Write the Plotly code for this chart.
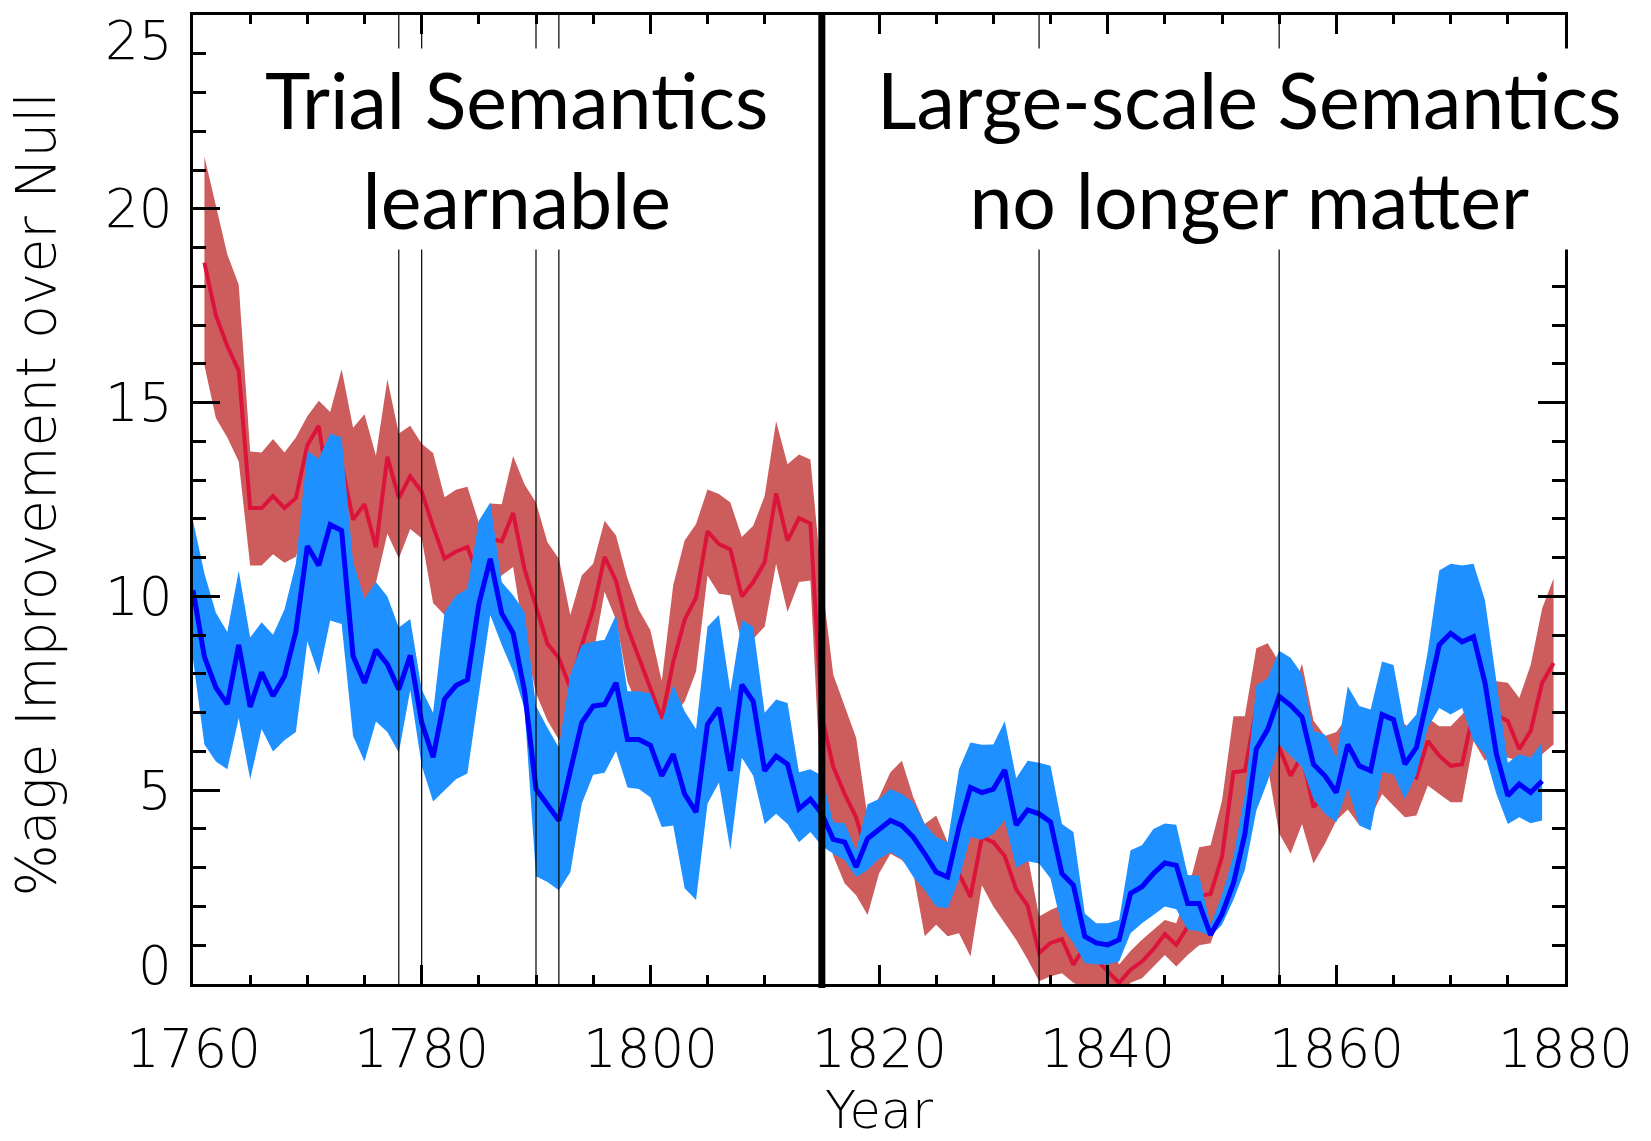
import plotly.graph_objects as go

# ---- data -------------------------------------------------------------
blue_years = list(range(1760, 1879))
red_years = list(range(1761, 1880))

blue_mid = [
    10.16, 8.44, 7.65, 7.22, 8.75, 7.15, 8.04, 7.43, 7.94, 9.1,
    11.3, 10.8, 11.85, 11.7, 8.46, 7.77, 8.62, 8.25, 7.6, 8.48,
    6.75, 5.85, 7.35, 7.7, 7.85, 9.8, 10.97, 9.56, 9.05, 7.55,
    5.03, 4.65, 4.22, 5.5, 6.74, 7.17, 7.21, 7.77, 6.31, 6.31,
    6.16, 5.37, 5.93, 4.9, 4.43, 6.7, 7.12, 5.5, 7.72, 7.29,
    5.5, 5.88, 5.67, 4.52, 4.77, 4.39, 3.73, 3.66, 3.02, 3.75,
    4.0, 4.22, 4.09, 3.79, 3.36, 2.89, 2.76, 4.05, 5.07, 4.94,
    5.03, 5.52, 4.1, 4.49, 4.39, 4.18, 2.85, 2.55, 1.23, 1.06,
    1.01, 1.14, 2.34, 2.51, 2.85, 3.12, 3.06, 2.08, 2.08, 1.27,
    1.8, 2.6, 3.87, 6.06, 6.57, 7.42, 7.19, 6.89, 5.67, 5.37,
    4.94, 6.18, 5.63, 5.5, 6.95, 6.82, 5.67, 6.1, 7.42, 8.75,
    9.05, 8.83, 8.96, 7.77, 5.93, 4.86, 5.16, 4.94, 5.24,
]
blue_hi = [
    11.95, 10.59, 9.58, 9.08, 10.66, 8.94, 9.33, 9.01, 9.66, 10.85,
    13.76, 13.55, 14.2, 14.1, 10.9, 9.94, 10.37, 10.0, 9.2, 9.42,
    7.6, 7.0, 9.59, 10.02, 10.2, 11.95, 12.42, 10.37, 10.03, 9.6,
    7.17, 6.61, 6.1, 7.98, 8.75, 8.83, 8.88, 9.52, 7.55, 7.55,
    7.5, 6.75, 7.72, 7.04, 6.57, 9.22, 9.52, 7.55, 9.39, 9.22,
    7.0, 7.34, 7.25, 5.46, 5.54, 5.37, 4.17, 4.15, 3.45, 4.64,
    4.77, 5.03, 4.9, 4.69, 4.13, 3.79, 3.66, 5.54, 6.23, 6.17,
    6.18, 6.78, 5.31, 5.76, 5.71, 5.63, 4.13, 3.92, 1.82, 1.57,
    1.57, 1.65, 3.45, 3.58, 4.0, 4.14, 4.11, 2.81, 2.79, 1.53,
    2.3, 3.3, 4.9, 7.7, 7.89, 8.6, 8.42, 8.0, 6.53, 6.44,
    5.84, 7.68, 7.17, 7.08, 8.32, 8.23, 6.61, 6.95, 8.58, 10.67,
    10.84, 10.8, 10.84, 9.9, 7.81, 5.71, 5.93, 5.84, 6.23,
]
blue_lo = [
    8.37, 6.18, 5.74, 5.54, 6.86, 5.28, 6.58, 6.0, 6.29, 6.5,
    8.84, 7.98, 9.38, 9.29, 6.4, 5.74, 6.77, 6.5, 5.97, 7.58,
    5.64, 4.71, 5.0, 5.28, 5.43, 7.5, 9.52, 8.75, 8.06, 7.1,
    2.78, 2.63, 2.42, 2.88, 4.65, 5.4, 5.45, 6.01, 5.07, 5.03,
    4.82, 4.05, 4.09, 2.47, 2.17, 4.65, 5.2, 3.45, 5.84, 5.37,
    4.13, 4.39, 4.13, 3.66, 3.92, 3.56, 3.36, 3.19, 2.76, 2.94,
    3.23, 3.4, 3.23, 2.76, 2.42, 2.0, 1.95, 2.7, 3.79, 3.72,
    3.87, 4.22, 3.0, 3.17, 3.11, 2.72, 1.48, 1.06, 0.54, 0.5,
    0.5, 0.58, 1.31, 1.57, 1.78, 2.0, 1.93, 1.4, 1.36, 1.23,
    1.53, 2.17, 2.94, 4.47, 5.24, 6.18, 5.9, 5.6, 4.78, 4.39,
    4.17, 5.07, 4.09, 3.96, 5.46, 5.41, 4.77, 5.41, 6.61, 7.12,
    6.95, 7.12, 6.27, 5.93, 4.9, 4.13, 4.3, 4.15, 4.22,
]

red_mid = [
    18.61, 17.25, 16.46, 15.82, 12.28, 12.28, 12.59, 12.28, 12.54,
    13.9, 14.4, 12.5, 13.4, 11.98, 12.38, 11.27, 13.6, 12.54, 13.1,
    12.7, 11.8, 10.98, 11.16, 11.27, 10.5, 11.5, 11.42, 12.15, 10.7,
    9.72, 8.78, 8.41, 7.64, 8.74, 9.67, 11.02, 10.4, 9.2, 8.41,
    7.62, 6.85, 8.3, 9.4, 9.97, 11.68, 11.35, 11.21, 10.0, 10.37,
    10.88, 12.66, 11.44, 12.02, 11.88, 6.9, 5.6, 4.9, 4.3, 3.3,
    3.8, 4.4, 4.5, 3.8, 2.7, 2.9, 2.5, 2.85, 2.25, 3.79,
    3.66, 3.3, 2.44, 2.02, 0.8, 1.06, 1.16, 0.5, 0.97, 0.63,
    0.33, 0.03, 0.37, 0.58, 0.9, 1.29, 1.01, 1.48, 2.27, 2.32,
    3.28, 5.46, 5.5, 7.1, 7.2, 6.1, 5.37, 5.9, 4.56, 4.9,
    5.2, 5.7, 5.4, 5.6, 6.1, 5.8, 5.5, 5.33, 6.27, 5.89,
    5.63, 5.67, 7.04, 7.21, 6.95, 6.78, 6.06, 6.53, 7.77, 8.28,
]
red_hi = [
    21.34, 20.05, 18.83, 18.04, 13.74, 13.71, 14.06, 13.71, 14.1,
    14.65, 15.05, 14.76, 15.86, 14.35, 14.7, 13.63, 15.6, 14.2, 14.4,
    13.94, 13.7, 12.56, 12.75, 12.83, 11.9, 12.4, 12.38, 13.62, 12.89,
    12.42, 11.4, 10.97, 9.52, 10.54, 10.84, 11.95, 11.57, 10.46, 9.65,
    9.13, 7.81, 10.29, 11.44, 11.87, 12.76, 12.64, 12.42, 11.53, 11.82,
    12.59, 14.52, 13.41, 13.66, 13.53, 10.4, 7.98, 7.17, 6.35, 4.3,
    4.82, 5.46, 5.76, 4.82, 4.13, 4.35, 3.66, 4.1, 3.8, 5.1,
    5.0, 4.8, 3.8, 3.3, 1.74, 1.91, 2.04, 1.3, 1.8, 1.4,
    1.1, 0.5, 0.85, 1.14, 1.4, 1.65, 1.57, 2.4, 3.53, 3.58,
    4.73, 6.91, 6.91, 8.66, 8.79, 8.3, 7.4, 8.26, 6.8, 6.4,
    6.5, 6.9, 6.7, 6.9, 7.3, 7.0, 6.7, 6.44, 6.87, 6.65,
    6.65, 6.95, 7.3, 7.6, 7.81, 7.77, 7.38, 8.23, 9.69, 10.46,
]
red_lo = [
    15.96, 14.6, 14.1, 13.48, 10.8, 10.8, 11.09, 10.87, 11.02,
    12.2, 12.8, 10.9, 11.5, 10.8, 9.9, 10.35, 11.62, 10.98, 11.74,
    11.5, 9.83, 9.52, 9.98, 10.17, 9.2, 10.2, 10.54, 10.76, 8.9,
    7.5, 6.8, 6.3, 6.1, 7.4, 8.5, 10.12, 9.4, 7.8, 7.1,
    6.2, 5.3, 6.9, 7.29, 8.06, 10.54, 10.07, 10.03, 8.8, 8.9,
    9.22, 10.84, 9.6, 10.37, 10.41, 4.5, 3.3, 2.59, 2.29, 1.78,
    2.85, 3.36, 3.2, 2.85, 1.23, 1.53, 1.23, 1.31, 0.71, 2.55,
    2.0, 1.57, 1.14, 0.63, 0.07, 0.2, 0.28, 0.03, -0.1, -0.3,
    -0.6, -0.5, 0.03, 0.15, 0.45, 0.75, 0.45, 0.75, 1.0, 1.05,
    1.9, 3.2, 4.0, 5.5, 5.6, 3.88, 3.36, 4.13, 3.11, 3.62,
    4.22, 4.5, 4.1, 4.3, 4.9, 4.6, 4.3, 4.35, 5.12, 4.9,
    4.69, 4.69, 6.27, 5.76, 6.06, 5.84, 5.76, 5.84, 5.93, 6.18,
]

event_years = [1778, 1780, 1790, 1792, 1834, 1855]
split_year = 1815

x_ticks = [1760, 1780, 1800, 1820, 1840, 1860, 1880]
y_ticks = [0, 5, 10, 15, 20, 25]

period_labels = ["Trial Semantics<br>learnable",
                 "Large-scale Semantics<br>no longer matter"]
period_centres = [1788.3, 1852.4]

# ---- styling ----------------------------------------------------------
RED_BAND, RED_LINE = "#CD5C5C", "#DC143C"
BLUE_BAND, BLUE_LINE = "#1E90FF", "#0000FF"
AXIS_FONT = dict(family="DejaVu Sans", size=53, color="black", weight=200)
TITLE_FONT = dict(family="DejaVu Sans", size=55, color="black", weight=200)
XTITLE_FONT = dict(family="DejaVu Sans", size=51, color="black", weight=200)
PERIOD_FONT = dict(family="Lato", size=77, color="black")


def band(xs, hi, lo, colour):
    return go.Scatter(
        x=xs + xs[::-1], y=hi + lo[::-1], mode="lines", fill="toself",
        fillcolor=colour, line=dict(width=0, color="rgba(0,0,0,0)"),
        hoverinfo="skip", showlegend=False)


fig = go.Figure()
fig.add_trace(band(red_years, red_hi, red_lo, RED_BAND))
fig.add_trace(go.Scatter(x=red_years, y=red_mid, mode="lines",
                         line=dict(color=RED_LINE, width=4),
                         showlegend=False))
fig.add_trace(band(blue_years, blue_hi, blue_lo, BLUE_BAND))
fig.add_trace(go.Scatter(x=blue_years, y=blue_mid, mode="lines",
                         line=dict(color=BLUE_LINE, width=5),
                         showlegend=False))

shapes = [dict(type="line", xref="x", yref="paper", x0=yr, x1=yr,
               y0=0, y1=1, line=dict(color="black", width=1.2),
               layer="above") for yr in event_years]
shapes.append(dict(type="line", xref="x", yref="paper", x0=split_year,
                   x1=split_year, y0=-0.004, y1=1,
                   line=dict(color="black", width=7), layer="above"))

annotations = []
for yr in x_ticks:
    annotations.append(dict(x=yr, y=0, xref="x", yref="paper", text=str(yr),
                            showarrow=False, xanchor="center",
                            yanchor="middle", yshift=-64, borderpad=0,
                            font=AXIS_FONT))
for v in y_ticks:
    shift = 19 if v == y_ticks[0] else (-25 if v == y_ticks[-1] else 0)
    annotations.append(dict(x=0, y=v, xref="paper", yref="y", text=str(v),
                            showarrow=False, xanchor="right",
                            yanchor="middle", xshift=-19, yshift=shift,
                            font=AXIS_FONT))
annotations.append(dict(x=0.5, y=-0.1306, xref="paper", yref="paper",
                        text="Year", showarrow=False, xanchor="center",
                        yanchor="middle", borderpad=0, font=XTITLE_FONT))
annotations.append(dict(x=-0.1145, y=0.505, xref="paper", yref="paper",
                        text="%age Improvement over Null", textangle=-90,
                        showarrow=False, xanchor="center", yanchor="middle",
                        font=TITLE_FONT))
for label, centre in zip(period_labels, period_centres):
    annotations.append(dict(x=centre, y=0.862, xref="x", yref="paper",
                            text=label, showarrow=False, xanchor="center",
                            yanchor="middle", bgcolor="white", borderpad=4,
                            font=PERIOD_FONT))

axis_common = dict(showgrid=False, zeroline=False, showline=True,
                   linecolor="black", linewidth=3, mirror="ticks",
                   ticks="inside", tickcolor="black", tickwidth=2.5,
                   showticklabels=False)

fig.update_layout(
    width=1651, height=1141,
    margin=dict(l=193, r=86, t=11.5, b=157),
    paper_bgcolor="white", plot_bgcolor="white",
    showlegend=False,
    xaxis=dict(range=[1760, 1880], tickmode="linear", tick0=1760, dtick=20,
               ticklen=19,
               minor=dict(ticks="inside", tick0=1760, dtick=5, ticklen=9,
                          tickwidth=2.5, tickcolor="black", showgrid=False),
               **axis_common),
    yaxis=dict(range=[0, 25], tickmode="linear", tick0=0, dtick=5,
               ticklen=27,
               minor=dict(ticks="inside", tick0=0, dtick=1, ticklen=13,
                          tickwidth=2.5, tickcolor="black", showgrid=False),
               **axis_common),
    shapes=shapes,
    annotations=annotations,
)

fig.write_html("out.html")
